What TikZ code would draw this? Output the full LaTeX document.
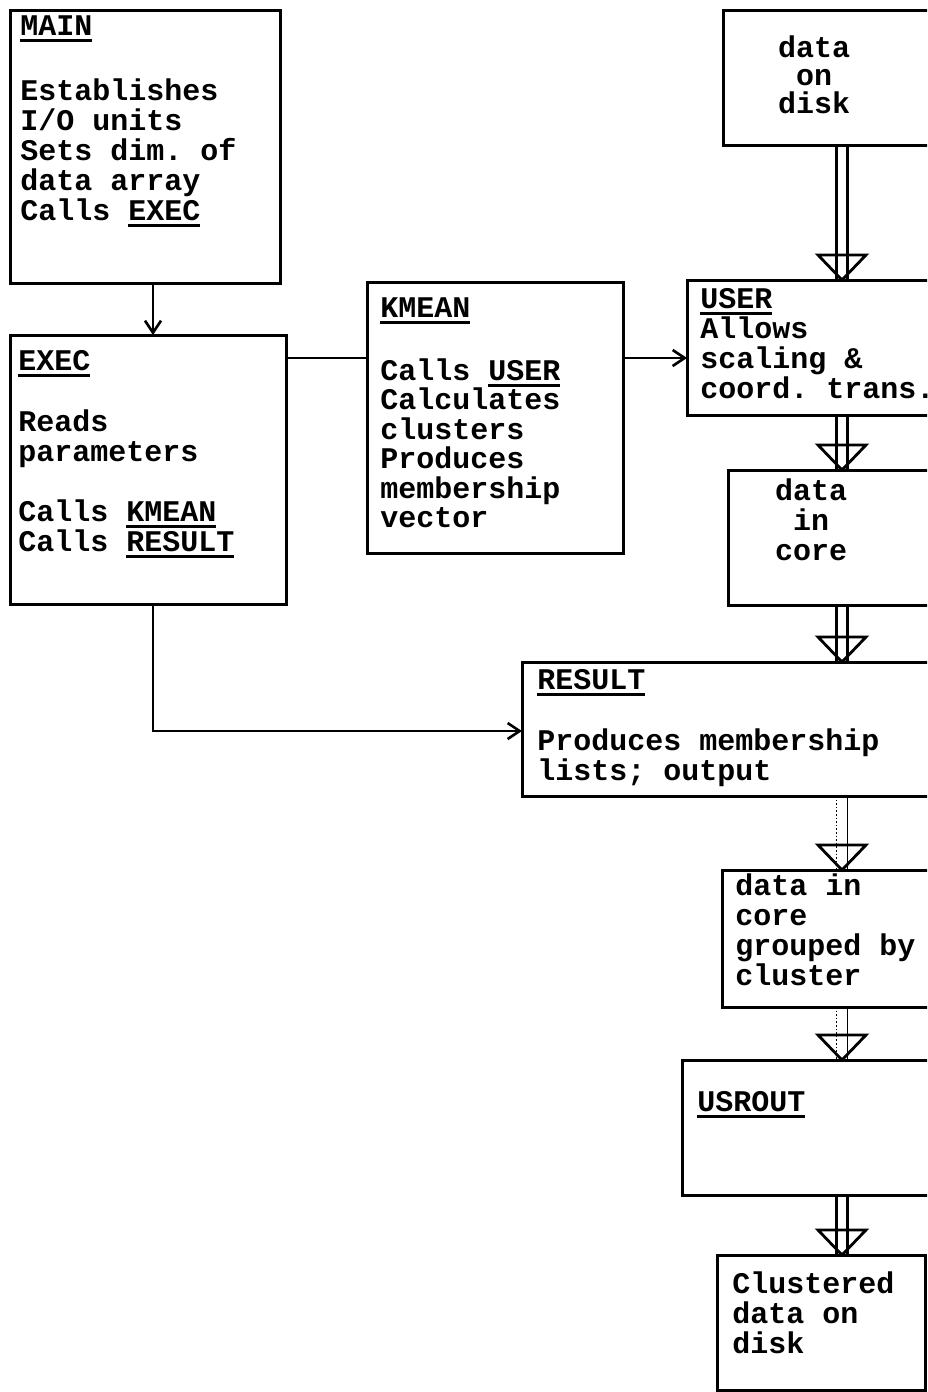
\documentclass[tikz,border=0pt]{standalone}
\usepackage{fontspec}
\setmonofont{Liberation Mono}
\usetikzlibrary{arrows.meta}
\newsavebox\ulbox
\newcommand\ulx[1]{\sbox\ulbox{#1}\rlap{\rule[-3.4pt]{\wd\ulbox}{1.4pt}}#1}
\newcommand\fs{\rule{0pt}{11pt}}
\tikzset{
  boxn/.style={draw, line width=1.5pt, anchor=north west, inner sep=0pt, outer sep=0pt},
  txt/.style={inner sep=0pt, align=left, anchor=north west,
              font=\ttfamily\bfseries\fontsize{15pt}{#1}\selectfont},
  txt/.default=15pt,
  ctxt/.style={txt=#1, align=center, anchor=north},
  ctxt/.default=15pt,
  conn/.style={line width=1.3pt},
  arr/.style={conn, -{Straight Barb[length=6pt,width=8pt,line width=1.3pt]}},
  dline/.style={line width=1.2pt},
  thinline/.style={line width=0.7pt},
  dotline/.style={line width=0.8pt, densely dotted},
  tri/.style={line width=1.4pt, line join=miter},
}
% double-line connector with open triangular head
\newcommand\dbl[4]{%
  \draw[#3] (#1.south -| axl) -- (#2.north -| axl);
  \draw[#4] (#1.south -| axr) -- (#2.north -| axr);
  \draw[tri] (#2.north -| ax) -- ++(-24,-25) -- ++(48,0) -- cycle;}
\begin{document}
\begin{tikzpicture}[x=0.5pt, y=-0.5pt]
\useasboundingbox (0,0) rectangle (927,1392);
\clip (0,0) rectangle (927,1392);

% helper coordinates
\coordinate (ax) at (842,0);
\coordinate (axl) at (836.5,0);
\coordinate (axr) at (847.5,0);
\coordinate (cx) at (153,0);
\coordinate (ky) at (0,358);
\coordinate (ry) at (0,731);

% boxes
\node[boxn, minimum width=135pt, minimum height=136.5pt] (main) at (10,10) {};
\node[boxn, minimum width=138pt, minimum height=134.5pt] (exec) at (10,335) {};
\node[boxn, minimum width=128pt, minimum height=135.5pt] (kmean) at (367,282) {};
\node[boxn, minimum width=150pt, minimum height=67.5pt] (disk) at (723,10) {};
\node[boxn, minimum width=170pt, minimum height=67.5pt] (user) at (687,280) {};
\node[boxn, minimum width=150pt, minimum height=67.5pt] (core) at (728,470) {};
\node[boxn, minimum width=250pt, minimum height=67pt] (result) at (522,662) {};
\node[boxn, minimum width=150pt, minimum height=68.5pt] (group) at (722,870) {};
\node[boxn, minimum width=170pt, minimum height=67.5pt] (usrout) at (682,1060) {};
\node[boxn, minimum width=104pt, minimum height=67.5pt] (clust) at (717,1255) {};

% texts
\node[txt] (maint) at (20,13) {\fs\ulx{MAIN}\\[17.5pt]Establishes\\I/O units\\Sets dim. of\\data array\\Calls \ulx{EXEC}};
\node[txt] (exect) at (18,348) {\fs\ulx{EXEC}\\[15.5pt]Reads\\parameters\\[15pt]Calls \ulx{KMEAN}\\Calls \ulx{RESULT}};
\node[txt=14.75pt] (kmeant) at (380,295) {\fs\ulx{KMEAN}\\[16.75pt]Calls \ulx{USER}\\Calculates\\clusters\\Produces\\membership\\vector};
\node[ctxt=14pt] (diskt) at (814,35) {\fs data\\on\\disk};
\node[txt] (usert) at (700,286) {\fs\ulx{USER}\\Allows\\scaling \&\\coord. trans.};
\node[ctxt] (coret) at (811,478) {\fs data\\in\\core};
\node[txt] (resultt) at (537,667) {\fs\ulx{RESULT}\\[15.5pt]Produces membership\\lists; output};
\node[txt] (groupt) at (735,873) {\fs data in\\core\\grouped by\\cluster};
\node[txt] (usroutt) at (697,1089) {\fs\ulx{USROUT}};
\node[txt] (clustt) at (732,1271) {\fs Clustered\\data on\\disk};

% single-line connectors
\draw[arr] (main.south -| cx) -- (exec.north -| cx);
\draw[conn] (exec.east |- ky) -- (kmean.west |- ky);
\draw[arr] (kmean.east |- ky) -- (user.west |- ky);
\draw[arr] (exec.south -| cx) |- (result.west |- ry);

% double-line connectors
\dbl{disk}{user}{dline}{dline}
\dbl{user}{core}{dline}{dline}
\dbl{core}{result}{dline}{dline}
\dbl{result}{group}{dotline}{thinline}
\dbl{group}{usrout}{dotline}{thinline}
\dbl{usrout}{clust}{dline}{dline}
\end{tikzpicture}
\end{document}
